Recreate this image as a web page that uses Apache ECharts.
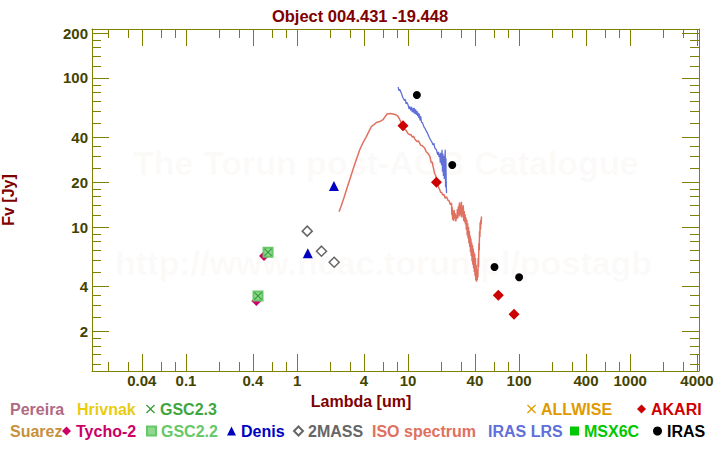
<!DOCTYPE html>
<html>
<head>
<meta charset="utf-8">
<script src="https://cdn.jsdelivr.net/npm/echarts@6/dist/echarts.min.js"></script>
<style>html,body{margin:0;padding:0;background:#fff}#c{width:720px;height:450px}</style>
</head>
<body>
<div id="c"></div>
<script>
// ---------- data ----------
const titleText = 'Object 004.431 -19.448';
const xName = 'Lambda [um]';
const yName = 'Fv [Jy]';
const xMajorTicks = [0.04, 0.1, 0.4, 1, 4, 10, 40, 100, 400, 1000, 4000];
const xMinorTicks = [0.02, 0.03, 0.06, 0.08, 0.2, 0.3, 0.6, 0.8, 2, 3, 6, 8, 20, 30, 60, 80, 200, 300, 600, 800, 2000, 3000];
const yMajorTicks = [2, 4, 10, 20, 40, 100, 200];
const yMinorTicks = [1.2, 1.4, 1.6, 1.8, 2.5, 3, 3.5, 5, 6, 7, 8, 9, 12, 14, 16, 18, 25, 30, 35, 50, 60, 70, 80, 90, 120, 140, 160, 180];
const xRange = [0.01423, 4170];
const yRange = [1.085, 213];

const tycho2 = [[0.43, 3.2], [0.504, 6.41]];
const gsc22 = [[0.445, 3.46], [0.548, 6.79]];
const gsc23 = [[0.445, 3.46], [0.548, 6.79]];
const denis = [[1.25, 6.69], [2.15, 18.9]];
const twomass = [[1.235, 9.4], [1.66, 6.9], [2.16, 5.82]];
const akari = [[9.0, 47.9], [18.0, 20.0], [65.0, 3.5], [90.0, 2.61]];
const iras = [[12.0, 76.9], [25.0, 26.1], [60.0, 5.4], [100.0, 4.61]];
const isoSpectrum = [[2.39,12.7],[2.5,13.9],[2.65,15.8],[2.8,18.0],[2.98,20.8],[3.2,24.5],[3.45,29.0],[3.67,33.0],[3.95,37.2],[4.22,40.6],[4.45,44.0],[4.68,47.3],[4.9,48.5],[5.19,50.3],[5.5,50.8],[5.95,52.5],[6.2,55.0],[6.47,57.3],[6.9,57.8],[7.33,57.3],[7.7,56.8],[8.13,55.2],[8.6,51.0],[9.02,47.9],[9.3,45.2],[9.6,44.6],[10.0,42.3],[10.36,41.6],[10.6,41.9],[10.9,40.2],[11.2,40.6],[11.5,39.1],[11.8,38.0],[12.1,37.5],[12.4,37.9],[12.7,36.6],[13.0,35.4],[13.4,35.2],[13.7,34.6],[14.1,33.9],[14.5,32.2],[14.9,31.5],[15.3,30.8],[15.7,29.8],[16.2,27.0],[16.5,27.4],[16.8,25.5],[17.1,24.0],[17.4,22.8],[17.7,22.2],[18.0,20.8],[18.3,19.6],[18.6,19.0],[19.0,18.2],[19.3,17.8],[19.7,17.0],[20.0,17.2],[20.5,16.4],[21.0,16.6],[21.6,15.6],[22.2,16.0],[22.8,15.2],[23.4,15.0],[24.0,14.2],[24.6,14.5],[24.8,12.0],[25.0,13.6],[25.2,11.2],[25.4,12.8],[25.7,11.0],[26.0,13.0],[26.3,11.4],[26.6,12.4],[26.9,10.9],[27.2,12.0],[27.5,11.3],[27.8,13.2],[28.1,11.5],[28.4,13.8],[28.7,12.0],[29.0,14.6],[29.3,11.8],[29.6,14.2],[29.9,12.2],[30.2,14.8],[30.5,11.6],[30.8,13.6],[31.1,12.2],[31.4,14.0],[31.7,11.0],[32.0,12.8],[32.3,10.8],[32.6,12.2],[32.9,10.4],[33.2,11.6],[33.5,9.6],[33.8,11.2],[34.1,8.8],[34.4,10.6],[34.7,8.4],[35.0,10.0],[35.3,7.8],[35.6,9.4],[35.9,7.4],[36.2,8.8],[36.5,6.8],[36.8,8.4],[37.1,6.4],[37.4,7.9],[37.7,5.9],[38.0,7.6],[38.3,5.6],[38.6,7.2],[38.9,5.3],[39.2,6.8],[39.5,5.0],[39.8,6.6],[40.1,4.7],[40.4,6.2],[40.7,4.4],[41.0,5.6],[41.3,4.3],[41.6,5.2],[41.9,4.4],[42.2,5.0],[42.5,4.6],[42.8,6.2],[43.1,5.4],[43.4,7.8],[43.7,7.0],[44.0,9.4],[44.3,8.6],[44.6,10.8],[44.9,9.6],[45.2,11.2],[45.5,10.4],[45.8,11.8]];
const irasLrs = [[8.13,87.0],[8.3,82.0],[8.4,84.0],[8.7,79.0],[8.9,75.0],[9.02,73.4],[9.3,70.5],[9.45,72.0],[9.6,67.0],[9.8,68.5],[10.0,66.0],[10.2,62.0],[10.36,64.5],[10.6,60.5],[10.75,64.0],[10.9,59.0],[11.05,62.5],[11.2,58.5],[11.35,63.0],[11.5,57.5],[11.7,61.5],[11.9,56.5],[12.05,60.0],[12.2,55.5],[12.35,58.5],[12.5,54.0],[12.65,57.5],[12.8,52.0],[13.0,55.3],[13.2,50.5],[13.5,50.0],[13.9,47.0],[14.2,46.0],[14.6,44.0],[15.0,42.5],[15.5,40.0],[15.9,38.5],[16.3,37.5],[16.8,35.5],[17.1,36.5],[17.4,34.0],[18.0,33.0],[18.5,30.5],[18.8,32.0],[19.0,29.5],[19.3,31.0],[19.5,27.0],[19.7,31.5],[20.0,26.0],[20.2,33.0],[20.4,23.5],[20.6,31.0],[20.8,22.0],[21.0,30.0],[21.2,21.0],[21.4,27.0],[21.6,33.0],[21.75,18.5],[21.9,29.0],[22.05,20.0],[22.2,16.9]];

// ---------- style ----------
const FONT = '"Liberation Sans", Arial, sans-serif';
const AXIS_COLOR = '#808000';
const LABEL_COLOR = '#434300';
const NAME_COLOR = '#800000';
const CROSS = 'path://M1,0L5,4L9,0L10,1L6,5L10,9L9,10L5,6L1,10L0,9L4,5L0,1Z';

function xAxisDef(pos, ticks, len, showLabel, showLine, extra) {
  return Object.assign({
    type: 'log', logBase: 10, min: xRange[0], max: xRange[1], position: pos,
    axisLine: { show: showLine, lineStyle: { color: AXIS_COLOR, width: 1 } },
    axisTick: { show: true, inside: true, length: len, customValues: ticks, lineStyle: { color: AXIS_COLOR, width: 1 } },
    axisLabel: { show: showLabel, customValues: ticks, margin: 2, color: LABEL_COLOR, fontSize: 15, fontWeight: 'bold', fontFamily: FONT,
      formatter: v => String(+v.toPrecision(6)) },
    splitLine: { show: false }, minorTick: { show: false }, minorSplitLine: { show: false }
  }, extra || {});
}
function yAxisDef(pos, ticks, len, showLabel, showLine, extra) {
  return Object.assign({
    type: 'log', logBase: 10, min: yRange[0], max: yRange[1], position: pos,
    axisLine: { show: showLine, lineStyle: { color: AXIS_COLOR, width: 1 } },
    axisTick: { show: true, inside: true, length: len, customValues: ticks, lineStyle: { color: AXIS_COLOR, width: 1 } },
    axisLabel: { show: showLabel, customValues: ticks, margin: 4, color: LABEL_COLOR, fontSize: 15, fontWeight: 'bold', fontFamily: FONT,
      formatter: v => String(+v.toPrecision(6)) },
    splitLine: { show: false }, minorTick: { show: false }, minorSplitLine: { show: false }
  }, extra || {});
}

function leg(name, textLeft, top, color, hasIcon) {
  const w = hasIcon ? 9 : 0;
  return {
    data: [name], left: textLeft - 5 - w, top: top, itemWidth: w, itemHeight: hasIcon ? 9 : 16,
    icon: hasIcon ? undefined : 'none', selectedMode: false, padding: 0,
    textStyle: { color: color, fontSize: 16, fontWeight: 'bold', fontFamily: FONT }
  };
}
const R1 = 401, R2 = 423;

const chart = echarts.init(document.getElementById('c'), null, { renderer: 'svg' });
chart.setOption({
  animation: false,
  backgroundColor: '#ffffff',
  title: {
    text: titleText, left: 'center', top: 2,
    textStyle: { color: NAME_COLOR, fontSize: 16.5, fontWeight: 'bold', fontFamily: FONT }
  },
  grid: { left: 92, top: 29, width: 607, height: 342, containLabel: false, outerBoundsMode: 'none' },
  xAxis: [
    xAxisDef('bottom', xMajorTicks, 17, true, true, {
      name: xName, nameLocation: 'middle', nameGap: 22,
      nameTextStyle: { color: NAME_COLOR, fontSize: 16, fontWeight: 'bold', fontFamily: FONT, padding: [0, 69, 0, 0] }
    }),
    xAxisDef('bottom', xMinorTicks, 9, false, false),
    xAxisDef('top', xMajorTicks, 17, false, true),
    xAxisDef('top', xMinorTicks, 9, false, false)
  ],
  yAxis: [
    yAxisDef('left', yMajorTicks, 17, true, true, {
      name: yName, nameLocation: 'middle', nameGap: 76,
      nameTextStyle: { color: NAME_COLOR, fontSize: 16, fontWeight: 'bold', fontFamily: FONT }
    }),
    yAxisDef('left', yMinorTicks, 9, false, false),
    yAxisDef('right', yMajorTicks, 17, false, true),
    yAxisDef('right', yMinorTicks, 9, false, false)
  ],
  graphic: [
    { type: 'text', left: 133, top: 146, z: -10, silent: true,
      style: { text: 'The Torun post-AGB Catalogue', fill: 'rgba(215,190,150,0.07)', font: 'bold 34px ' + FONT } },
    { type: 'text', left: 115, top: 246, z: -10, silent: true,
      style: { text: 'http://www.ncac.torun.pl/postagb', fill: 'rgba(215,190,150,0.07)', font: 'bold 34px ' + FONT } }
  ],
  legend: [
    leg('Pereira', 10, R1, '#b06a84', false),
    leg('Hrivnak', 77, R1, '#e8cc10', false),
    leg('GSC2.3', 160, R1, '#3fa63f', true),
    leg('ALLWISE', 541, R1, '#e09a00', true),
    leg('AKARI', 651, R1, '#d00000', true),
    leg('Suarez', 10, R2, '#c8903c', false),
    leg('Tycho-2', 76, R2, '#cc0066', true),
    leg('GSC2.2', 160, R2, '#66c866', true),
    leg('Denis', 241, R2, '#0000c0', true),
    leg('2MASS', 307, R2, '#666666', true),
    leg('ISO spectrum', 372, R2, '#e07060', false),
    leg('IRAS LRS', 488, R2, '#6070d8', false),
    leg('MSX6C', 584, R2, '#00c800', true),
    leg('IRAS', 667, R2, '#000000', true)
  ],
  series: [
    { name: 'Pereira', type: 'scatter', data: [], itemStyle: { color: '#b06a84', opacity: 1 } },
    { name: 'Hrivnak', type: 'scatter', data: [], itemStyle: { color: '#e8cc10', opacity: 1 } },
    { name: 'Suarez', type: 'scatter', data: [], itemStyle: { color: '#c8903c', opacity: 1 } },
    { name: 'ALLWISE', type: 'scatter', data: [], symbol: CROSS, symbolSize: 9, itemStyle: { color: '#e09a00', opacity: 1 } },
    { name: 'MSX6C', type: 'scatter', data: [], symbol: 'rect', symbolSize: 8, itemStyle: { color: '#00c800', opacity: 1 } },
    { name: 'ISO spectrum', type: 'line', data: isoSpectrum, showSymbol: false, symbol: 'none',
      lineStyle: { color: '#e07060', width: 1.5 }, itemStyle: { color: '#e07060' }, z: 3 },
    { name: 'IRAS LRS', type: 'line', data: irasLrs, showSymbol: false, symbol: 'none',
      lineStyle: { color: '#6070d8', width: 1.3 }, itemStyle: { color: '#6070d8' }, z: 3 },
    { name: 'Tycho-2', type: 'scatter', data: tycho2, symbol: 'diamond', symbolSize: 10, itemStyle: { color: '#cc0066', opacity: 1 }, z: 4 },
    { name: 'GSC2.2', type: 'scatter', data: gsc22, symbol: 'rect', symbolSize: 9,
      itemStyle: { color: '#8fd88f', borderColor: '#66c866', borderWidth: 2, opacity: 1 }, z: 5 },
    { name: 'GSC2.3', type: 'scatter', data: gsc23, symbol: CROSS, symbolSize: 8, itemStyle: { color: '#3a9a3a', opacity: 1 }, z: 6 },
    { name: 'Denis', type: 'scatter', data: denis, symbol: 'triangle', symbolSize: 10, itemStyle: { color: '#0000c0', opacity: 1 }, z: 4 },
    { name: '2MASS', type: 'scatter', data: twomass, symbol: 'diamond', symbolSize: 10,
      itemStyle: { color: '#ffffff', borderColor: '#666666', borderWidth: 1.5, opacity: 1 }, z: 4 },
    { name: 'AKARI', type: 'scatter', data: akari, symbol: 'diamond', symbolSize: 11, itemStyle: { color: '#cc0000', opacity: 1 }, z: 7 },
    { name: 'IRAS', type: 'scatter', data: iras, symbol: 'circle', symbolSize: 8, itemStyle: { color: '#000000', opacity: 1 }, z: 7 }
  ]
});
</script>
</body>
</html>
